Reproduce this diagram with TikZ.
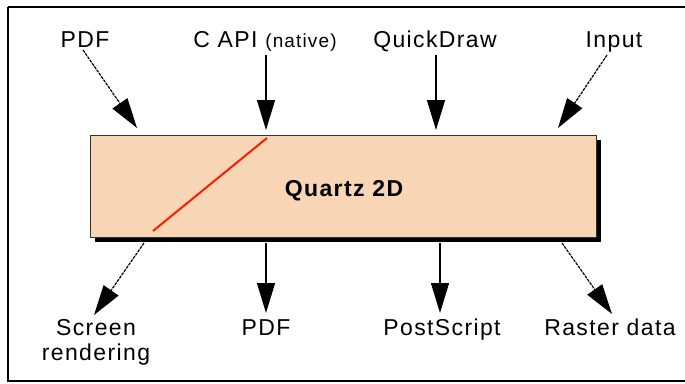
\documentclass[tikz,border=0pt]{standalone}
\usepackage{fontspec}
\setmainfont{Liberation Sans}[LetterSpace=6]
\usetikzlibrary{arrows.meta}
\definecolor{peach}{RGB}{248,214,181}
\definecolor{redline}{RGB}{250,30,0}
\definecolor{boxedge}{RGB}{50,50,50}
\begin{document}
\begin{tikzpicture}[x=1pt,y=-1pt,
  lbl/.style={anchor=base,inner sep=0pt,font=\fontsize{23}{25}\selectfont,align=center},
  solidarr/.style={line width=1.3pt,-{Triangle[length=30pt,width=18pt]}},
  dotarr/.style={line width=1.2pt,dash pattern=on 3pt off 1pt,-{Triangle[length=30pt,width=18pt]}},
  frame/.style={line width=2pt,draw=black},
]
\useasboundingbox (0,0) rectangle (685,383);
\draw[frame] (8,6.5) -- (695,6.5) (8,6.5) -- (8,381) -- (695,381);
% box with shadow
\fill[black] (95,140) rectangle (601,242);
\node[draw=boxedge,fill=peach,line width=1pt,minimum width=506pt,minimum height=102pt,inner sep=0pt,anchor=north west] (q) at (90,135) {};
\node[anchor=base,inner sep=0pt,font=\fontsize{23}{25}\selectfont\bfseries] (qt) at (344,196) {Quartz 2D};
\coordinate (r1) at (153,231);
\coordinate (r2) at (267,138);
\draw[redline,line width=2pt] (r1) -- (r2);
% top labels
\node[lbl] (tpdf) at (85,47) {PDF};
\node[lbl] (tcapi) at (265,47) {C API {\fontsize{19}{20}\selectfont(native)}};
\node[lbl] (tqd) at (435,47) {QuickDraw};
\node[lbl] (tin) at (614,47) {Input};
% bottom labels
\node[lbl] (bscr) at (96,360) {Screen\\rendering};
\node[lbl] (bpdf) at (266,335) {PDF};
\node[lbl] (bps) at (442,335) {PostScript};
\node[lbl] (bras) at (610,335) {Raster data};
% arrow coordinates
\coordinate (a1s) at (83,50);  \coordinate (a1e) at (137,128);
\coordinate (a2s) at (266,55); \coordinate (a2e) at (266,130);
\coordinate (a3s) at (436,55); \coordinate (a3e) at (436,130);
\coordinate (a4s) at (607,55); \coordinate (a4e) at (558,128);
\coordinate (b1s) at (144,243); \coordinate (b1e) at (94,315);
\coordinate (b2s) at (266,243); \coordinate (b2e) at (266,313);
\coordinate (b3s) at (440,243); \coordinate (b3e) at (440,313);
\coordinate (b4s) at (562,243); \coordinate (b4e) at (612,314);
\draw[dotarr] (a1s) -- (a1e);
\draw[solidarr] (a2s) -- (a2e);
\draw[solidarr] (a3s) -- (a3e);
\draw[dotarr] (a4s) -- (a4e);
\draw[dotarr] (b1s) -- (b1e);
\draw[solidarr] (b2s) -- (b2e);
\draw[solidarr] (b3s) -- (b3e);
\draw[dotarr] (b4s) -- (b4e);
\end{tikzpicture}
\end{document}
